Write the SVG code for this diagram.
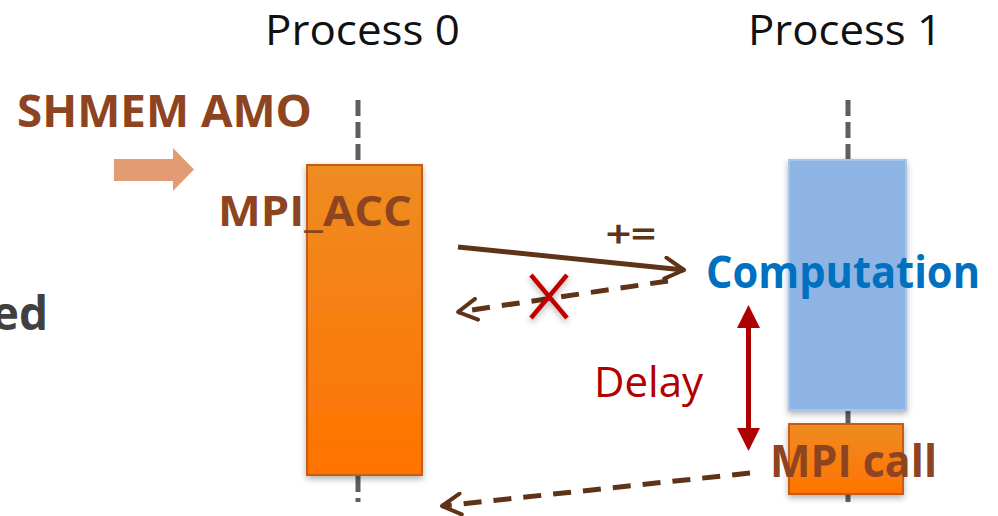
<svg xmlns="http://www.w3.org/2000/svg" width="998" height="516" viewBox="0 0 998 516">
<defs>
<linearGradient id="og" x1="0" y1="0" x2="0" y2="1">
<stop offset="0" stop-color="#EE8C22"/>
<stop offset="1" stop-color="#FF7300"/>
</linearGradient>
<filter id="sh" x="-20%" y="-20%" width="140%" height="140%">
<feDropShadow dx="0" dy="3" stdDeviation="3" flood-color="#000" flood-opacity="0.3"/>
</filter>
<marker id="chev" viewBox="0 0 10 10" refX="9" refY="5" markerWidth="5" markerHeight="5" orient="auto" markerUnits="strokeWidth">
<path d="M1.5,0.8 L9,5 L1.5,9.2" fill="none" stroke="#5E3317" stroke-width="1.6" stroke-linecap="round" stroke-linejoin="round"/>
</marker>
</defs>
<style>
text{font-family:"Open Sans","Liberation Sans",sans-serif}
.b{font-weight:bold}
.brown{fill:#8E4420}
.life{stroke:#5F5F5F;stroke-width:5;stroke-dasharray:16 6;fill:none}
.conn{stroke:#5E3317;stroke-width:5;fill:none}
</style>
<rect width="998" height="516" fill="#fff"/>

<g id="labels">
<text x="265" y="45" font-size="42" fill="#111" textLength="195" lengthAdjust="spacingAndGlyphs">Process 0</text>
<text x="748" y="45" font-size="42" fill="#111" textLength="194" lengthAdjust="spacingAndGlyphs">Process 1</text>
<text x="48" y="330" font-size="46" class="b" fill="#404040" text-anchor="end">ed</text>
</g>

<g id="shmem-amo">
<text x="17" y="127" font-size="44" class="b brown" textLength="295" lengthAdjust="spacingAndGlyphs">SHMEM AMO</text>
<path d="M114,159 H173 V148 L194,169.5 L173,191 V181 H114 Z" fill="#E39B74"/>
</g>

<g id="lifelines">
<line x1="358" y1="100" x2="358" y2="165" class="life"/>
<line x1="358" y1="476" x2="358" y2="502" class="life" stroke-dasharray="4 4 14 6"/>
<line x1="848" y1="100" x2="848" y2="160" class="life"/>
<line x1="848" y1="407" x2="848" y2="426" class="life" stroke-dasharray="8 4 6 10"/>
<line x1="848" y1="495" x2="848" y2="502" class="life"/>
</g>

<g id="process0-mpi-acc">
<rect x="307" y="165" width="115" height="310" fill="url(#og)" stroke="#C75B16" stroke-width="2" filter="url(#sh)"/>
<text x="218" y="226" font-size="42" class="b brown" textLength="194" lengthAdjust="spacingAndGlyphs">MPI_ACC</text>
</g>

<g id="process1-computation">
<rect x="789" y="160" width="117" height="250" fill="#8EB4E3" stroke="#A9C6EA" stroke-width="2" filter="url(#sh)"/>
<text x="706" y="288" font-size="44" class="b" fill="#0070C0" textLength="274" lengthAdjust="spacingAndGlyphs">Computation</text>
</g>

<g id="process1-mpi-call">
<rect x="789" y="424" width="114" height="70" fill="url(#og)" stroke="#C75B16" stroke-width="2" filter="url(#sh)"/>
<text x="770" y="477" font-size="44" class="b brown" textLength="167" lengthAdjust="spacingAndGlyphs">MPI call</text>
</g>

<g id="connectors">
<line x1="458" y1="247" x2="684" y2="270" class="conn" marker-end="url(#chev)"/>
<text x="606" y="247" font-size="36" fill="#5E3317" stroke="#5E3317" stroke-width="1" textLength="50" lengthAdjust="spacingAndGlyphs">+=</text>
<line x1="668" y1="281" x2="458" y2="312" class="conn" stroke-dasharray="18 12" marker-end="url(#chev)"/>
<g id="cross" stroke="#C00000" stroke-width="4.5" filter="url(#sh)">
<line x1="531" y1="275" x2="567" y2="318"/>
<line x1="567" y1="275" x2="531" y2="318"/>
</g>
<line x1="750" y1="473" x2="442" y2="506" class="conn" stroke-dasharray="18 12" marker-end="url(#chev)"/>
<g id="delay">
<line x1="748.5" y1="325" x2="748.5" y2="430" stroke="#AE0000" stroke-width="5"/>
<path d="M748.5,305 L760,328 L737,328 Z" fill="#AE0000"/>
<path d="M748.5,451 L760,428 L737,428 Z" fill="#AE0000"/>
<text x="594" y="397" font-size="42" fill="#B00000" textLength="109" lengthAdjust="spacingAndGlyphs">Delay</text>
</g>
</g>
</svg>
